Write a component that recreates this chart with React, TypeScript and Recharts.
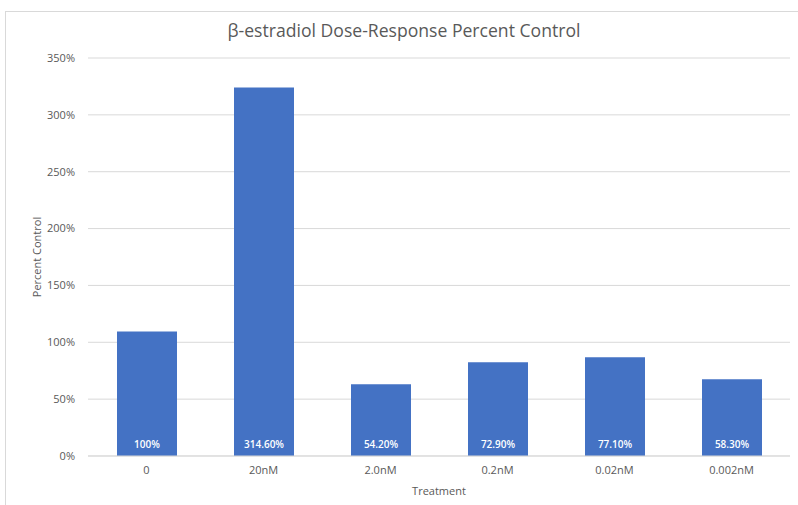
import { BarChart, Bar, XAxis, YAxis, CartesianGrid, LabelList } from 'recharts';

const treatments = ['0', '20nM', '2.0nM', '0.2nM', '0.02nM', '0.002nM'];
// bar heights as drawn (percent)
const barHeights = [109.4, 324, 63.2, 82.4, 86.8, 67.6];
// the labels printed inside the bars
const barLabels = ['100%', '314.60%', '54.20%', '72.90%', '77.10%', '58.30%'];
const yTicks = [0, 50, 100, 150, 200, 250, 300, 350];

const data = treatments.map((t, i) => ({
  treatment: t,
  value: barHeights[i],
  label: barLabels[i],
}));

const font = '"Open Sans", sans-serif';
const gray = '#595959';

const InsideLabel = (props: any) => {
  const { x, y, width, height, value } = props;
  return (
    <text
      x={x + width / 2}
      y={y + height - 12}
      fill="#fff"
      fontSize={10}
      fontWeight={600}
      fontFamily={font}
      textAnchor="middle"
      dominantBaseline="central"
    >
      {value}
    </text>
  );
};

const YTitle = (props: any) => {
  const { viewBox } = props;
  const cx = viewBox.x + 30;
  const cy = viewBox.y + viewBox.height / 2;
  return (
    <text
      x={cx}
      y={cy}
      transform={`rotate(-90, ${cx}, ${cy})`}
      fill={gray}
      fontSize={11}
      fontFamily={font}
      textAnchor="middle"
      dominantBaseline="central"
    >
      Percent Control
    </text>
  );
};

export default function App() {
  return (
    <div style={{ position: 'absolute', left: 0, top: 0, width: 798, height: 505, overflow: 'hidden', background: '#fff' }}>
      <div
        style={{
          position: 'absolute',
          left: 5,
          top: 11,
          width: 800,
          height: 500,
          border: '1px solid #d9d9d9',
        }}
      >
        <div
          style={{
            position: 'absolute',
            left: 0,
            top: 6,
            width: 796,
            textAlign: 'center',
            fontFamily: font,
            fontSize: 17.6,
            color: gray,
          }}
        >
          β-estradiol Dose-Response Percent Control
        </div>
        <BarChart width={800} height={500} data={data} margin={{ top: 46, right: 16, bottom: 0, left: 0 }}>
          <CartesianGrid vertical={false} stroke="#d9d9d9" />
          <XAxis
            dataKey="treatment"
            height={56}
            axisLine={{ stroke: '#d9d9d9' }}
            tickLine={false}
            tickSize={0}
            tickMargin={10}
            tick={{ fill: gray, fontSize: 11, fontFamily: font }}
            label={{ value: 'Treatment', position: 'insideBottom', offset: 17, fill: gray, fontSize: 11, fontFamily: font }}
          />
          <YAxis
            width={82}
            domain={[0, 350]}
            ticks={yTicks}
            interval={0}
            axisLine={false}
            tickLine={false}
            tickSize={0}
            tickMargin={13}
            tickFormatter={(v: number) => `${v}%`}
            tick={{ fill: gray, fontSize: 11, fontFamily: font }}
            label={{ content: YTitle }}
          />
          <Bar dataKey="value" fill="#4472C4" barSize={60} isAnimationActive={false}>
            <LabelList dataKey="label" content={InsideLabel} />
          </Bar>
        </BarChart>
      </div>
    </div>
  );
}
